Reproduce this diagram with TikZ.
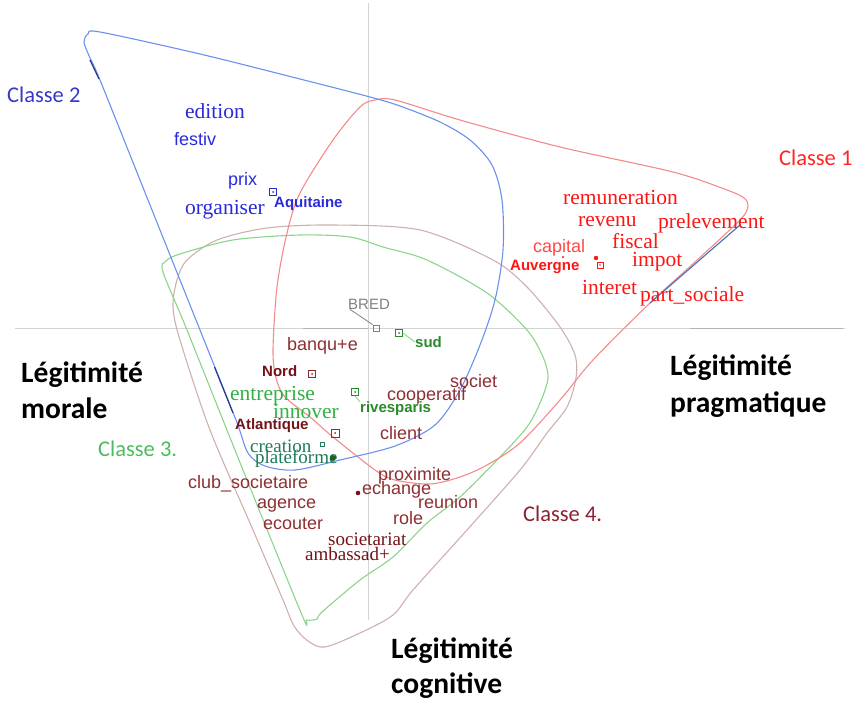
\documentclass[tikz,border=0pt]{standalone}
\usepackage{fontspec}
\setmainfont{Liberation Serif}
\setsansfont{Liberation Sans}
\newfontfamily\carlito{Carlito}
\definecolor{cblue}{HTML}{6A90EE}
\definecolor{cbluedark}{HTML}{2A3C8C}
\definecolor{cred}{HTML}{F58A8A}
\definecolor{cgreen}{HTML}{8CD48C}
\definecolor{cbrown}{HTML}{CFAFAF}
\definecolor{tblue}{HTML}{2A2ADC}
\definecolor{tred}{HTML}{FF1414}
\definecolor{tredl}{HTML}{FF4848}
\definecolor{tmar}{HTML}{8E2E32}
\definecolor{tmard}{HTML}{741218}
\definecolor{tgreen}{HTML}{2A8A2A}
\definecolor{tgreenl}{HTML}{34B046}
\definecolor{tteal}{HTML}{1E7A5A}
\definecolor{cl2}{HTML}{3838C8}
\definecolor{cl1}{HTML}{FF2424}
\definecolor{cl3}{HTML}{4CBB5C}
\definecolor{cl4}{HTML}{8B2232}
\definecolor{axisc}{HTML}{D4D4D4}
\definecolor{axisd}{HTML}{B4B4B4}
\begin{document}
\begin{tikzpicture}[x=1pt,y=-1pt,
  lbl/.style={inner sep=0pt, anchor=west},
  sa/.style={lbl, font=\rmfamily\fontsize{21.5}{24}\selectfont},
  sb/.style={lbl, font=\rmfamily\fontsize{19}{22}\selectfont},
  ss/.style={lbl, font=\sffamily\fontsize{18}{21}\selectfont},
  sbold/.style={lbl, font=\sffamily\bfseries\fontsize{15}{18}\selectfont},
  classe/.style={lbl, font=\carlito\fontsize{22.5}{26}\selectfont},
  legit/.style={inner sep=0pt, anchor=base west, font=\carlito\bfseries\fontsize{29.5}{36}\selectfont},
  marker/.style={draw, rectangle, minimum size=7pt, inner sep=0pt, line width=0.9pt},
  contour/.style={line width=1.1pt},
  axisline/.style={draw=axisc, line width=1pt}
]
\useasboundingbox (0,0) rectangle (860,701);
% axes
\draw[axisline] (15,328) -- (845,328);
\draw[axisline] (368,3) -- (368,620);
\draw[draw=axisd, line width=1pt] (303,328) -- (368,328);
\draw[draw=axisd, line width=1pt] (690,328) -- (843,328);
% contours
\draw[contour, cbrown] plot[smooth cycle, tension=0.5] coordinates {(173,307) (177,280) (187,260) (217,240) (267,228) (333,225) (420,230) (493,260) (527,287) (560,327) (575,355) (576,378) (567,407) (547,433) (520,470) (467,530) (413,590) (393,615) (360,633) (325,647) (308,641) (294,626) (283,600) (253,530) (210,430) (180,340)};
\draw[contour, cgreen] plot[smooth cycle, tension=0.5] coordinates {(163,272) (166,261) (180,254) (233,240) (300,235) (350,237) (383,247) (427,260) (487,293) (527,330) (543,357) (548,378) (540,403) (527,427) (500,457) (460,497) (427,523) (393,557) (360,580) (322,612) (317,619) (307,620) (302,615) (245,475) (187,330)};
\draw[contour, cred] plot[smooth cycle, tension=0.5] coordinates {(273,350) (277,287) (287,233) (300,193) (333,140) (360,107) (375,100) (395,100) (460,120) (560,147) (673,172) (727,190) (744,198) (748,206) (740,220) (695,262) (650,303) (593,360) (560,400) (520,443) (487,465) (460,477) (430,484) (395,480) (375,470) (333,437) (310,417) (285,397) (276,378)};
\draw[contour, cblue] plot[smooth cycle, tension=0.5] coordinates {(84,42) (88,34) (100,32) (200,54) (300,79) (370,97) (400,106) (440,122) (470,140) (492,165) (502,200) (503,250) (495,300) (480,345) (460,390) (435,425) (395,446) (340,460) (295,470) (265,466) (248,453) (236,420) (200,330) (150,205) (100,80) (90,58)};
\draw[line width=1.2pt, cbluedark] (90,60) -- (99,79);
\draw[line width=1.2pt, cbluedark] (214.5,367) -- (233,413);
\draw[line width=1.1pt, draw={rgb,255:red,74;green,111;blue,176}] (650,303) -- (740,225);
% class labels
\node[classe, text=cl2] (c2) at (7,95) {Classe 2};
\node[classe, text=cl1] (c1) at (779,158) {Classe 1};
\node[classe, text=cl3] (c3) at (98,449) {Classe 3.};
\node[classe, text=cl4] (c4) at (523,514) {Classe 4.};
% legitimacy labels
\node[legit] (lm1) at (21,382) {Légitimité};
\node[legit] (lm2) at (21,418) {morale};
\node[legit] (lp1) at (670,375) {Légitimité};
\node[legit] (lp2) at (670,412) {pragmatique};
\node[legit] (lc1) at (391,658) {Légitimité};
\node[legit] (lc2) at (391,693) {cognitive};
% blue group
\node[sa, text=tblue] (edition) at (185,111) {edition};
\node[ss, text=tblue] (festiv) at (174,139) {festiv};
\node[ss, text=tblue] (prix) at (228,181) {prix};
\node[sa, text=tblue] (organiser) at (185,210) {organiser};
\node[sbold, text=tblue] (aquitaine) at (274,204) {Aquitaine};
\node[marker, draw=tblue] (mAq) at (273,192) {};
\fill[tblue] (mAq.center) circle (1pt);
% red group
\node[sa, text=tred] (remuneration) at (563,197) {remuneration};
\node[sa, text=tred] (revenu) at (578,222) {revenu};
\node[sa, text=tred] (prelevement) at (658,223) {prelevement};
\node[sa, text=tred] (fiscal) at (612,241) {fiscal};
\node[sa, text=tred] (impot) at (632,262) {impot};
\node[sa, text=tred] (interet) at (582,287) {interet};
\node[sa, text=tred] (partsociale) at (640,296) {part\_sociale};
\node[ss, text=tredl] (capital) at (533,248) {capital};
\node[sbold, text=tred] (auvergne) at (510,267) {Auvergne};
\node[marker, draw=tred, minimum size=6pt] (mAuv) at (600,265) {};
\fill[tred] (mAuv.center) circle (0.9pt);
\fill[tred] (596,258) circle (2.2pt);
\fill[tredl] (563,257) circle (1.3pt);
% BRED
\node[lbl, font=\sffamily\fontsize{15}{18}\selectfont, text=gray] (bred) at (348,304) {BRED};
\node[draw=gray, rectangle, minimum size=6pt, inner sep=0pt, line width=0.8pt] (mBred) at (376,328) {};
\draw[gray, line width=0.8pt] ([xshift=2pt]bred.south west) -- (mBred.north west);
% green group
\node[sbold, text=tgreen] (sud) at (415,342) {sud};
\node[marker, draw=tgreen] (mSud) at (399,333) {};
\fill[tgreen] (mSud.center) circle (1pt);
\draw[cgreen, line width=0.9pt] (mSud.east) -- (sud.west);
\node[sbold, text=tgreen] (rivesparis) at (360,409) {rivesparis};
\node[marker, draw=tgreen] (mRiv) at (355,392) {};
\fill[tgreen] (mRiv.center) circle (1pt);
\draw[cgreen, line width=0.9pt] (mRiv.south) -- (rivesparis.north west);
\node[sa, text=tgreenl] (entreprise) at (230,396) {entreprise};
\node[sa, text=tgreenl] (innover) at (273,411) {innover};
\node[sb, text=tteal] (creation) at (250,446) {creation};
\node[sb, text=tteal] (plateforme) at (255,459) {plateforme};
\node[draw=tteal, rectangle, minimum size=4pt, inner sep=0pt, line width=0.8pt] (mCre) at (322,444) {};
\fill[tgreen!70!black] (333,458) circle (3pt);
% maroon group
\node[ss, text=tmar] (banque) at (287,346) {banqu+e};
\node[sbold, text=tmard] (nord) at (262,371) {Nord};
\node[marker, draw=tmar] (mNord) at (312,374) {};
\fill[tmar] (mNord.center) circle (1pt);
\node[sbold, text=tmard] (atlantique) at (235,426) {Atlantique};
\node[marker, draw=tmar, minimum size=8pt] (mAtl) at (335,433) {};
\fill[tmar] (mAtl.center) circle (1pt);
\node[ss, text=tmar] (societ) at (450,381) {societ};
\node[ss, text=tmar] (cooperatif) at (387,396) {cooperatif};
\node[ss, text=tmar] (client) at (380,433) {client};
\node[ss, text=tmar] (club) at (188,484) {club\_societaire};
\node[ss, text=tmar] (agence) at (257,506) {agence};
\node[ss, text=tmar] (ecouter) at (263,524) {ecouter};
\node[ss, text=tmar] (proximite) at (378,476) {proximite};
\node[ss, text=tmar] (echange) at (362,490) {echange};
\fill[tmard] (358,493) circle (2.3pt);
\node[ss, text=tmar] (reunion) at (418,502) {reunion};
\node[ss, text=tmar] (role) at (393,518) {role};
\node[sb, text=tmard] (societariat) at (328,539) {societariat};
\node[sb, text=tmard] (ambassad) at (305,554) {ambassad+};
\end{tikzpicture}
\end{document}
